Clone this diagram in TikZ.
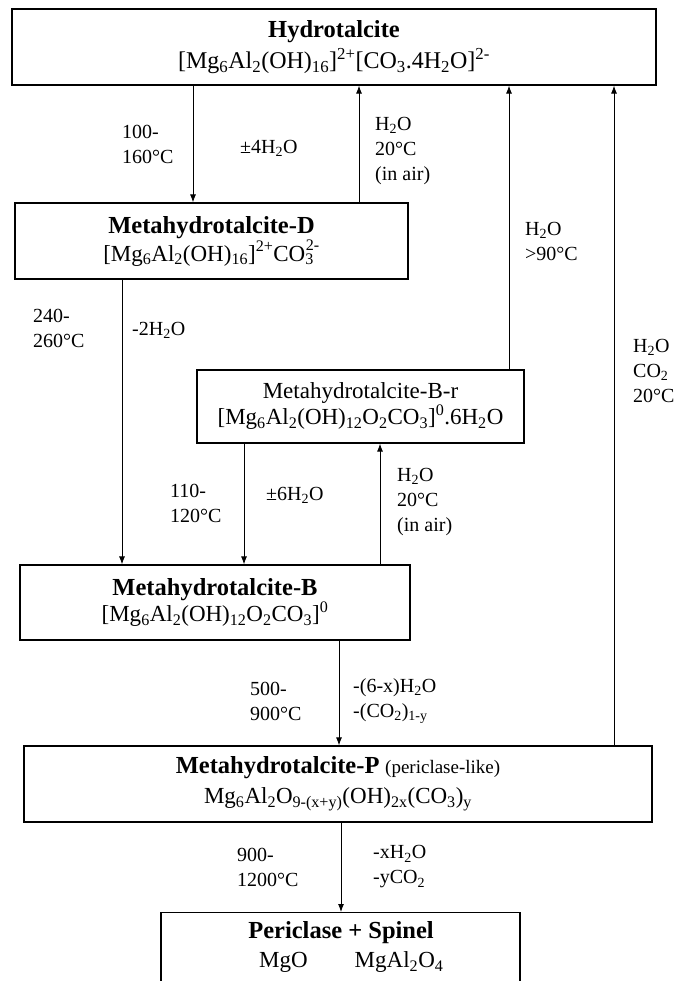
\documentclass[tikz,border=0pt]{standalone}
\usepackage{fontspec}
\setmainfont{Liberation Serif}
\usetikzlibrary{arrows.meta}
\newcommand\ssup[2]{\textsubscript{\rlap{#1}}\textsuperscript{#2}}
\newcommand\ttl[1]{{\fontsize{24.5}{25}\selectfont\bfseries #1}}
\newcommand\sbs[1]{\textsubscript{#1}}
\newcommand\sps[1]{\textsuperscript{#1}}
\begin{document}
\begin{tikzpicture}[x=1pt,y=-1pt,
  box/.style={draw, line width=1.2pt, align=center, inner sep=0pt,
    font=\fontsize{23}{26}\selectfont},
  lbl/.style={align=left, anchor=west, inner sep=0pt,
    font=\fontsize{20}{25}\selectfont},
  arr/.style={line width=0.9pt, -{Latex[length=8pt,width=6pt]}}]
\clip (0,0) rectangle (677,981);
\fill[white] (0,0) rectangle (677,981);

% boxes
\node[box, minimum width=644pt, minimum height=76pt] (hyd) at (334,47)
  {\ttl{Hydrotalcite}\\[5pt]
   {\fontsize{24}{26}\selectfont[Mg\sbs{6}Al\sbs{2}(OH)\sbs{16}]\sps{2+}[CO\sbs{3}.4H\sbs{2}O]\sps{2-}}};
\node[box, minimum width=393pt, minimum height=76pt] (metd) at (211.5,241)
  {\ttl{Metahydrotalcite-D}\\[2pt]
   {}[Mg\sbs{6}Al\sbs{2}(OH)\sbs{16}]\sps{2+}CO\ssup{3}{\raisebox{1pt}{2-}}};
\node[box, minimum width=327pt, minimum height=73pt] (metbr) at (360.5,406.5)
  {Metahydrotalcite-B-r\\[0pt]
   {}[Mg\sbs{6}Al\sbs{2}(OH)\sbs{12}O\sbs{2}CO\sbs{3}]\sps{0}.6H\sbs{2}O};
\node[box, minimum width=390pt, minimum height=75pt] (metb) at (215,602.5)
  {\ttl{Metahydrotalcite-B}\\[0pt]
   {}[Mg\sbs{6}Al\sbs{2}(OH)\sbs{12}O\sbs{2}CO\sbs{3}]\sps{0}};
\node[box, minimum width=628pt, minimum height=76pt] (metp) at (338,784)
  {\ttl{Metahydrotalcite-P} {\fontsize{19}{20}\selectfont (periclase-like)}\\[4pt]
   Mg\sbs{6}Al\sbs{2}O\sbs{9-(x+y)}(OH)\sbs{2x}(CO\sbs{3})\sbs{y}};
\node[draw, line width=1.2pt, minimum width=359pt, minimum height=100pt,
  inner sep=0pt, anchor=north] (per) at (340.5,912) {};
\node[inner sep=0pt] (pertitle) at (341,933) {\ttl{Periclase + Spinel}};
\node[inner sep=0pt, anchor=west, font=\fontsize{23}{26}\selectfont] (performula) at (259,962)
  {MgO\hspace{47pt}MgAl\sbs{2}O\sbs{4}};

% connectors
\draw[arr] (193,0 |- hyd.south) -- (193,0 |- metd.north);
\draw[arr] (359,0 |- metd.north) -- (359,0 |- hyd.south);
\draw[arr] (509,0 |- metbr.north) -- (509,0 |- hyd.south);
\draw[arr] (614,0 |- metp.north) -- (614,0 |- hyd.south);
\draw[arr] (122,0 |- metd.south) -- (122,0 |- metb.north);
\draw[arr] (244,0 |- metbr.south) -- (244,0 |- metb.north);
\draw[arr] (380,0 |- metb.north) -- (380,0 |- metbr.south);
\draw[arr] (339,0 |- metb.south) -- (339,0 |- metp.north);
\draw[arr] (341,0 |- metp.south) -- (341,0 |- per.north);

% labels
\node[lbl] (l1) at (122,144) {100-\\160°C};
\node[lbl] (l2) at (240,148) {±4H\sbs{2}O};
\node[lbl] (l3) at (375,151) {H\sbs{2}O\\20°C\\(in air)};
\node[lbl] (l4) at (33,328) {240-\\260°C};
\node[lbl] (l5) at (132,330) {-2H\sbs{2}O};
\node[lbl] (l6) at (525,241) {H\sbs{2}O\\>90°C};
\node[lbl] (l7) at (633,371) {H\sbs{2}O\\CO\sbs{2}\\20°C};
\node[lbl] (l8) at (170,503) {110-\\120°C};
\node[lbl] (l9) at (266,495) {±6H\sbs{2}O};
\node[lbl] (l10) at (397,502) {H\sbs{2}O\\20°C\\(in air)};
\node[lbl] (l11) at (250,701) {500-\\900°C};
\node[lbl] (l12) at (353,701) {-(6-x)H\sbs{2}O\\-(CO\sbs{2})\sbs{1-y}};
\node[lbl] (l13) at (237,867) {900-\\1200°C};
\node[lbl] (l14) at (373,867) {-xH\sbs{2}O\\-yCO\sbs{2}};
\end{tikzpicture}
\end{document}
